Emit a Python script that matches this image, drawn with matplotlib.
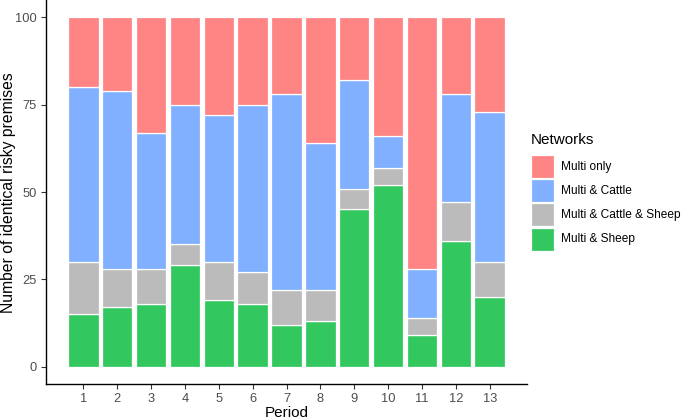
import matplotlib
matplotlib.use("Agg")
import matplotlib.pyplot as plt
import numpy as np
from matplotlib.patches import Rectangle

plt.rcParams['font.family'] = ['Liberation Sans', 'DejaVu Sans']

periods = [1, 2, 3, 4, 5, 6, 7, 8, 9, 10, 11, 12, 13]
multi_sheep = [15, 17, 18, 29, 19, 18, 12, 13, 45, 52, 9, 36, 20]
multi_cattle_sheep = [15, 11, 10, 6, 11, 9, 10, 9, 6, 5, 5, 11, 10]
multi_cattle = [50, 51, 39, 40, 42, 48, 56, 42, 31, 9, 14, 31, 43]
multi_only = [20, 21, 33, 25, 28, 25, 22, 36, 18, 34, 72, 22, 27]

series = [
    ("Multi & Sheep", multi_sheep, "#33C75F"),
    ("Multi & Cattle & Sheep", multi_cattle_sheep, "#BBBBBB"),
    ("Multi & Cattle", multi_cattle, "#80B0FF"),
    ("Multi only", multi_only, "#FF8484"),
]
colors = {name: col for name, _, col in series}

W, H = 685, 419
fig = plt.figure(figsize=(W / 100, H / 100), dpi=100)
ax = fig.add_axes([46 / W, 35 / H, (527 - 46) / W, (H - 35) / H])

bottom = np.zeros(len(periods))
for name, vals, col in series:
    ax.bar(periods, vals, width=0.9, bottom=bottom, color=col,
           edgecolor="white", linewidth=0.9)
    bottom += np.array(vals)

ax.set_xlim(1 - 1.1, 13 + 1.1)
ax.set_ylim(-5, 105)
ax.set_xticks(periods)
ax.set_xticklabels([str(p) for p in periods])
ax.set_yticks([0, 25, 50, 75, 100])
ax.tick_params(axis='both', colors='#333333', labelsize=9.3, length=3.5, width=0.8,
               labelcolor='#4D4D4D', pad=3)
for s in ['top', 'right']:
    ax.spines[s].set_visible(False)
for s in ['left', 'bottom']:
    ax.spines[s].set_linewidth(1.0)
    ax.spines[s].set_color('black')

# axis titles
fig.text(286.5 / W, 1 - 413 / H, "Period", fontsize=11, ha='center', va='center')
fig.text(1 / W, 1 - 192.5 / H, "Number of identical risky premises", fontsize=11.3,
         rotation=90, ha='left', va='center')

# legend (drawn manually to match layout)
order = ["Multi only", "Multi & Cattle", "Multi & Cattle & Sheep", "Multi & Sheep"]
fig.text(531 / W, 1 - 140 / H, "Networks", fontsize=11, ha='left', va='center')
row_centers = [166.7, 191, 215, 239.3]
key = 23
for name, yc in zip(order, row_centers):
    fig.patches.append(Rectangle((531 / W, 1 - (yc + key / 2) / H), key / W, key / H,
                                 transform=fig.transFigure, facecolor=colors[name],
                                 edgecolor='white', linewidth=0.9))
    fig.text(561 / W, 1 - yc / H, name, fontsize=8.6, ha='left', va='center')

fig.savefig("out.png", dpi=100)
